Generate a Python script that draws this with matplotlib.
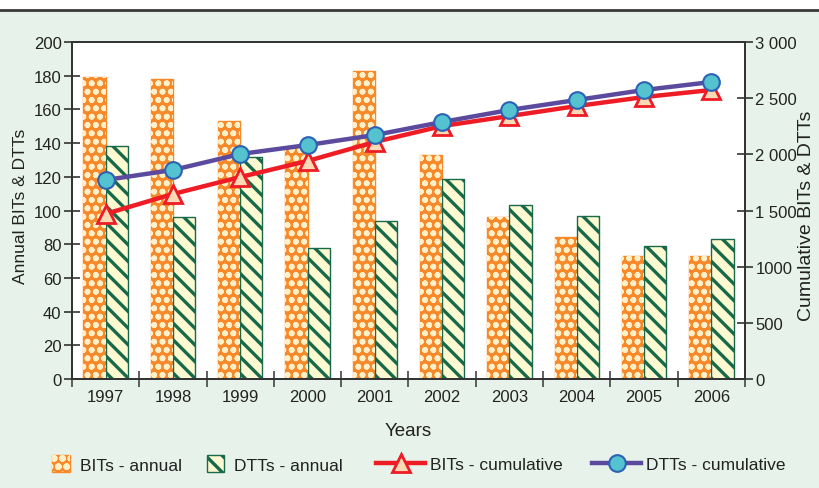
import matplotlib
matplotlib.use("Agg")
import matplotlib.pyplot as plt
import matplotlib.patches as mpatches
from matplotlib.lines import Line2D
from matplotlib.legend_handler import HandlerPatch
import numpy as np

plt.rcParams['font.family'] = ['Liberation Sans', 'DejaVu Sans']
plt.rcParams['hatch.linewidth'] = 2.4

# data
years = ["1997", "1998", "1999", "2000", "2001", "2002", "2003", "2004", "2005", "2006"]
bits_annual = [179, 178, 153, 137, 183, 133, 96, 84, 73, 73]
dtts_annual = [138, 96, 132, 78, 94, 119, 103, 97, 79, 83]
bits_cum = [1470, 1647, 1798, 1941, 2110, 2252, 2341, 2430, 2510, 2573]
dtts_cum = [1772, 1861, 2003, 2083, 2172, 2288, 2395, 2484, 2573, 2644]
left_ticks = [0, 20, 40, 60, 80, 100, 120, 140, 160, 180, 200]
right_ticks = [0, 500, 1000, 1500, 2000, 2500, 3000]
right_labels = ["0", "500", "1000", "1 500", "2 000", "2 500", "3 000"]

bg = "#e7f3ea"
orange = "#f7892b"
pale_orange = "#fff0c8"
green = "#17694a"
pale_yellow = "#fdf9d0"
red = "#ee1c25"
purple = "#5b4a9e"
dark = "#333333"
txt = "#222222"

fig = plt.figure(figsize=(8.2, 4.89), dpi=100, facecolor=bg)

# white strip and rule at the very top
fig.patches.append(mpatches.Rectangle((0, 0.9775), 1, 0.03, transform=fig.transFigure,
                                      facecolor="white", edgecolor="none", zorder=0))
fig.lines.append(Line2D([0, 1], [0.9775, 0.9775], transform=fig.transFigure,
                        color="#3a3a3a", lw=2))

ax = fig.add_axes([0.0878, 0.2229, 0.8207, 0.6891])
x = np.arange(len(years))
w = 0.33

# BITs annual: orange with pale checker
ax.bar(x - w / 2, bits_annual, w, facecolor=orange, edgecolor=orange, linewidth=1, zorder=2)
checker = ax.bar(x - w / 2, bits_annual, w, fill=False, hatch="oo", edgecolor=pale_orange,
                 linewidth=0, zorder=3)
for p in checker:
    if hasattr(p, "set_hatch_linewidth"):
        p.set_hatch_linewidth(1.8)
# DTTs annual: pale with dark green stripes
ax.bar(x + w / 2, dtts_annual, w, facecolor=pale_yellow, edgecolor=green, hatch="\\\\",
       linewidth=1, zorder=2)

ax.set_xlim(-0.5, 9.5)
ax.set_ylim(0, 200)
ax.set_yticks(left_ticks)
ax.set_xticks(x)
ax.set_xticklabels(years)
ax.set_xticks(np.arange(-0.5, 10, 1), minor=True)
ax.tick_params(axis="x", which="major", length=0, pad=7, labelsize=12, colors=txt)
ax.tick_params(axis="x", which="minor", direction="inout", length=11, width=1.2, color="#444444")
ax.tick_params(axis="y", direction="inout", length=11, width=1.2, color=dark,
               labelsize=12, labelcolor=txt, pad=2)
for s in ax.spines.values():
    s.set_color(dark)
    s.set_linewidth(1.3)

ax2 = ax.twinx()
ax2.plot(x, bits_cum, color=red, lw=3.2, marker="^", markersize=13, markerfacecolor="#fad9b5",
         markeredgecolor=red, markeredgewidth=2, zorder=4)
ax2.plot(x, dtts_cum, color=purple, lw=3.2, marker="o", markersize=12, markerfacecolor="#55c2cf",
         markeredgecolor="#2b62b5", markeredgewidth=1.5, zorder=5)
ax2.set_ylim(0, 3000)
ax2.set_yticks(right_ticks)
ax2.set_yticklabels(right_labels)
ax2.tick_params(axis="y", direction="inout", length=11, width=1.2, color=dark,
                labelsize=12, labelcolor=txt, pad=2)
for s in ax2.spines.values():
    s.set_color(dark)
    s.set_linewidth(1.3)

fig.text(0.025, 0.578, "Annual BITs & DTTs", rotation=90, ha="center", va="center",
         fontsize=12.5, color=txt)
fig.text(0.984, 0.558, "Cumulative BITs & DTTs", rotation=90, ha="center", va="center",
         fontsize=14, color=txt)
fig.text(0.498, 0.117, "Years", ha="center", va="center", fontsize=13.5, color=txt)


def small_box(legend, orig_handle, xdescent, ydescent, width, height, fontsize):
    return mpatches.Rectangle((-xdescent, -ydescent), width, height)


bits_base = mpatches.Patch(facecolor=orange, edgecolor=orange, linewidth=1)
bits_hatch = mpatches.Patch(fill=False, hatch="oo", edgecolor=pale_orange, linewidth=0)
dtts_patch = mpatches.Patch(facecolor=pale_yellow, edgecolor=green, hatch="\\\\", linewidth=1)
leg1 = fig.legend([(bits_base, bits_hatch), dtts_patch], ["BITs - annual", "DTTs - annual"],
                  loc="center left", bbox_to_anchor=(0.064, 0.049), ncol=2, frameon=False,
                  fontsize=12.5, handlelength=1.0, handleheight=1.1, handletextpad=0.6,
                  columnspacing=1.4, borderpad=0, borderaxespad=0,
                  handler_map={mpatches.Patch: HandlerPatch(patch_func=small_box)})
for t in leg1.get_texts():
    t.set_color(txt)

red_h = Line2D([], [], color=red, lw=3.2, marker="^", markersize=13, markerfacecolor="#fad9b5",
               markeredgecolor=red, markeredgewidth=2)
pur_h = Line2D([], [], color=purple, lw=3.2, marker="o", markersize=12, markerfacecolor="#55c2cf",
               markeredgecolor="#2b62b5", markeredgewidth=1.5)
leg2 = fig.legend([red_h, pur_h], ["BITs - cumulative", "DTTs - cumulative"],
                  loc="center left", bbox_to_anchor=(0.459, 0.049), ncol=2, frameon=False,
                  fontsize=12.5, handlelength=2.8, handletextpad=0.3, columnspacing=1.7,
                  borderpad=0, borderaxespad=0)
for t in leg2.get_texts():
    t.set_color(txt)

fig.savefig("out.png", dpi=100, facecolor=bg)
